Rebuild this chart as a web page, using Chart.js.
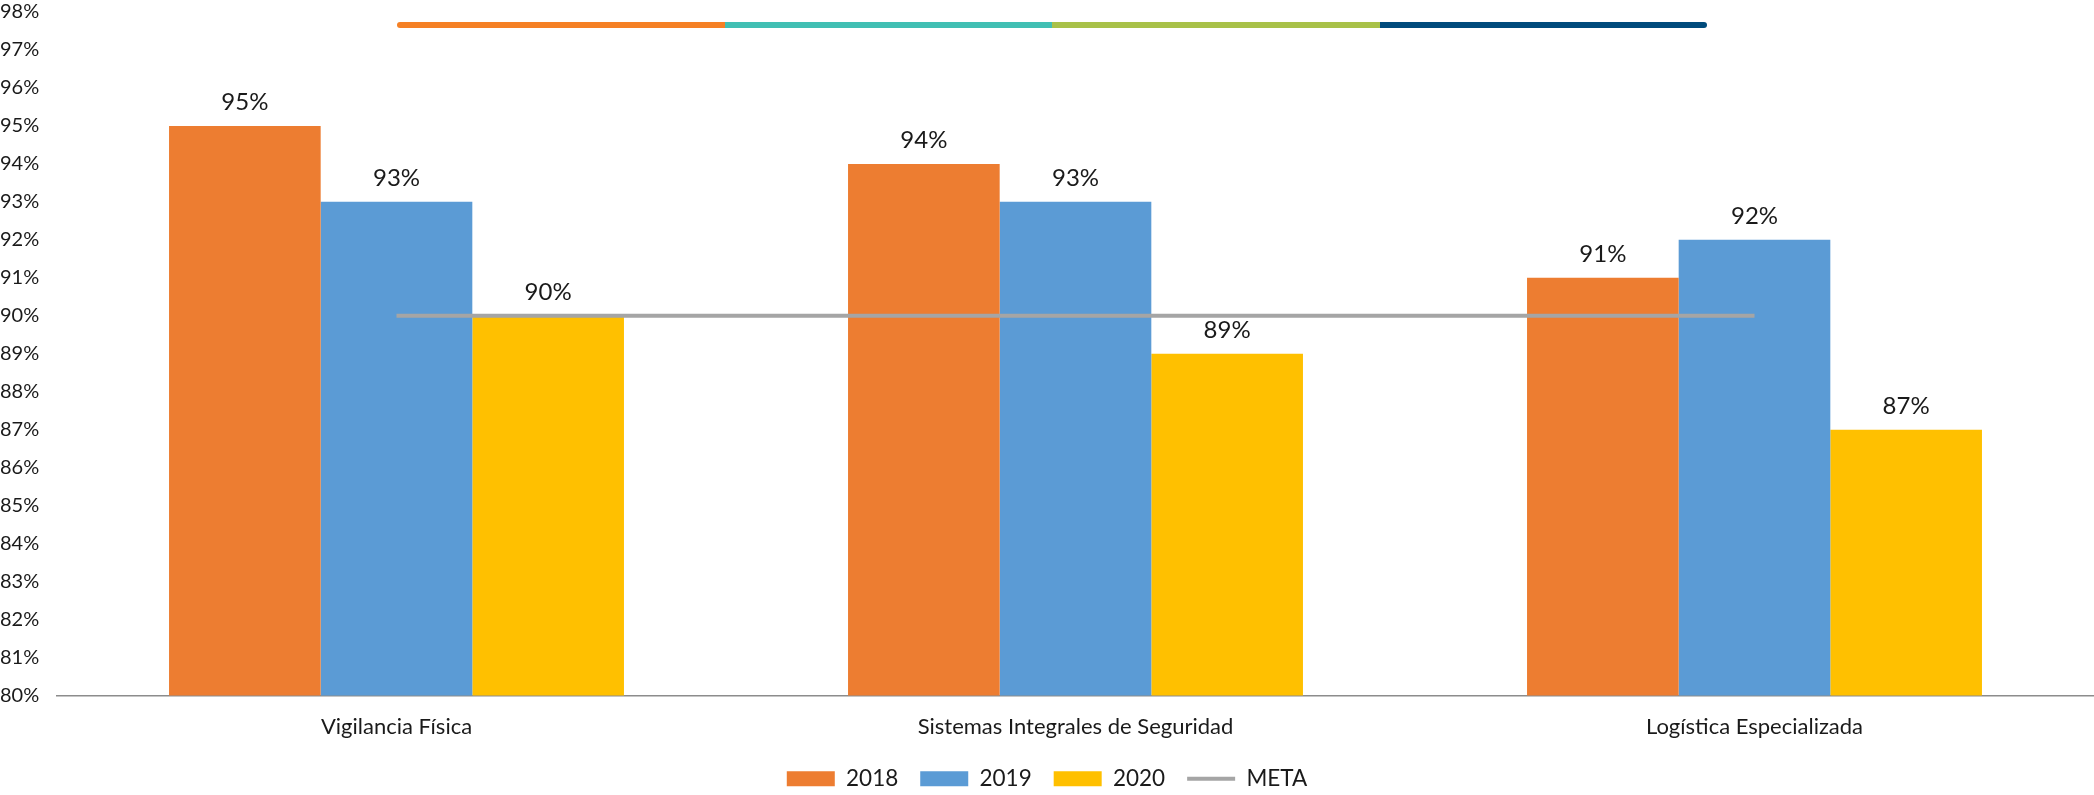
<!DOCTYPE html>
<html>
<head>
<meta charset="utf-8">
<script src="https://cdn.jsdelivr.net/npm/chart.js@4.4.1/dist/chart.umd.min.js"></script>
<style>
  html, body { margin: 0; padding: 0; background: #ffffff; overflow: hidden; }
  #wrap { position: relative; width: 2094px; height: 795px; overflow: hidden; }
  #deco { position: absolute; left: 397px; top: 22px; width: 1310px; height: 6px; display: flex; border-radius: 3px; overflow: hidden; }
  #deco div { flex: 1; }
</style>
</head>
<body>
<div id="wrap">
  <canvas id="c" width="2094" height="800"></canvas>
  <div id="deco">
    <div style="background:#F58025"></div>
    <div style="background:#41BFB3"></div>
    <div style="background:#A8C149"></div>
    <div style="background:#004B7C"></div>
  </div>
</div>
<script>
const categories = ['Vigilancia Física', 'Sistemas Integrales de Seguridad', 'Logística Especializada'];
const values2018 = [95, 94, 91];
const values2019 = [93, 93, 92];
const values2020 = [90, 89, 87];
const metaValues = [90, 90, 90];
const seriesNames = ['2018', '2019', '2020', 'META'];
const yMin = 80;
const yMax = 98;

const FONT = 'Lato, "Open Sans", sans-serif';

const barLabels = {
  id: 'barLabels',
  afterDatasetsDraw(chart) {
    const ctx = chart.ctx;
    ctx.save();
    ctx.font = '24px ' + FONT;
    ctx.fillStyle = '#1a1a1a';
    ctx.textAlign = 'center';
    ctx.textBaseline = 'alphabetic';
    chart.data.datasets.forEach((ds, i) => {
      if (ds.type === 'line') return;
      const meta = chart.getDatasetMeta(i);
      meta.data.forEach((el, j) => {
        ctx.fillText(ds.data[j] + '%', el.x, el.y - 16);
      });
    });
    ctx.restore();
  }
};

new Chart(document.getElementById('c'), {
  data: {
    labels: categories,
    datasets: [
      { type: 'bar', label: seriesNames[0], data: values2018, backgroundColor: '#ED7D31', borderWidth: 0, categoryPercentage: 0.67, barPercentage: 1.0, order: 1 },
      { type: 'bar', label: seriesNames[1], data: values2019, backgroundColor: '#5B9BD5', borderWidth: 0, categoryPercentage: 0.67, barPercentage: 1.0, order: 1 },
      { type: 'bar', label: seriesNames[2], data: values2020, backgroundColor: '#FFC000', borderWidth: 0, categoryPercentage: 0.67, barPercentage: 1.0, order: 1 },
      { type: 'line', label: seriesNames[3], data: metaValues, borderColor: '#A5A5A5', backgroundColor: '#A5A5A5', borderWidth: 4, pointRadius: 0, pointHoverRadius: 0, fill: false, order: 0 }
    ]
  },
  options: {
    responsive: false,
    animation: false,
    layout: { padding: { top: 0, left: 0, right: 0, bottom: 0 } },
    scales: {
      x: {
        offset: true,
        grid: { display: false, drawTicks: false },
        border: { display: true, color: '#8c8c8c', width: 1.5 },
        afterFit(scale) { scale.height = 50; },
        ticks: { font: { family: FONT, size: 22 }, color: '#1a1a1a', padding: 18 }
      },
      y: {
        min: yMin,
        max: yMax,
        grid: { display: false, drawTicks: false },
        border: { display: false },
        afterFit(scale) { scale.width = 57; },
        ticks: {
          stepSize: 1,
          crossAlign: 'far',
          padding: 0,
          font: { family: FONT, size: 20 },
          color: '#1a1a1a',
          callback: (v) => v + '%'
        }
      }
    },
    plugins: {
      tooltip: { enabled: false },
      legend: {
        position: 'bottom',
        labels: {
          font: { family: FONT, size: 22.5 },
          color: '#1a1a1a',
          usePointStyle: true,
          pointStyleWidth: 48,
          boxHeight: 15,
          padding: 22,
          sort: (a, b) => a.datasetIndex - b.datasetIndex,
          generateLabels(chart) {
            const items = Chart.defaults.plugins.legend.labels.generateLabels(chart);
            items.forEach(it => {
              const ds = chart.data.datasets[it.datasetIndex];
              if (ds.type === 'line') {
                it.pointStyle = 'line';
                it.lineWidth = 4;
                it.strokeStyle = ds.borderColor;
              } else {
                it.pointStyle = 'rect';
                it.lineWidth = 0;
              }
            });
            return items;
          }
        }
      }
    }
  },
  plugins: [barLabels]
});
</script>
</body>
</html>
